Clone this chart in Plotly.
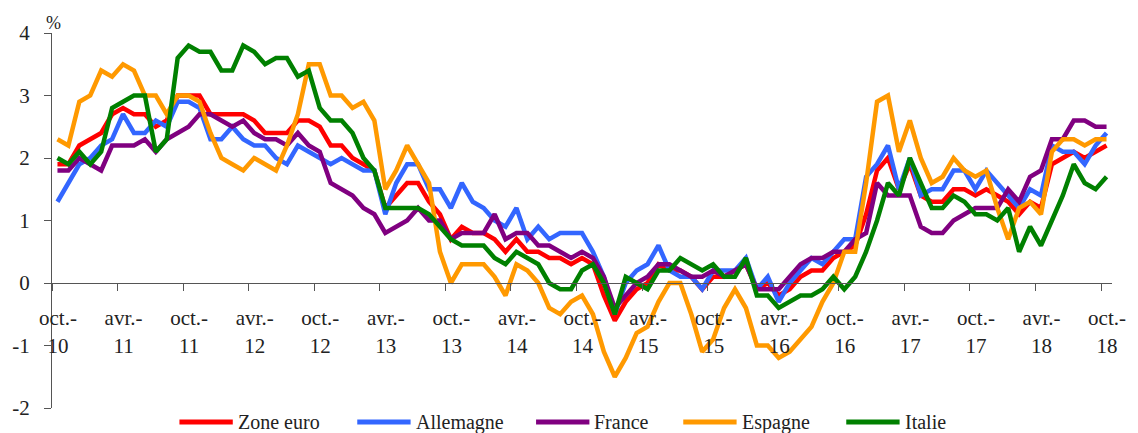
import plotly.graph_objects as go

# Monthly year-on-year inflation (%), October 2010 to October 2018
months = list(range(97))

zone_euro = [1.9, 1.9, 2.2, 2.3, 2.4, 2.7, 2.8, 2.7, 2.7, 2.5, 2.6, 3.0, 3.0, 3.0, 2.7, 2.7,
             2.7, 2.7, 2.6, 2.4, 2.4, 2.4, 2.6, 2.6, 2.5, 2.2, 2.2, 2.0, 1.9, 1.8, 1.2, 1.4,
             1.6, 1.6, 1.3, 1.1, 0.7, 0.9, 0.8, 0.8, 0.7, 0.5, 0.7, 0.5, 0.5, 0.4, 0.4, 0.3,
             0.4, 0.3, -0.2, -0.6, -0.3, -0.1, 0.0, 0.3, 0.2, 0.2, 0.1, -0.1, 0.1, 0.1, 0.2,
             0.3, -0.1, 0.0, -0.2, -0.1, 0.1, 0.2, 0.2, 0.4, 0.5, 0.6, 1.1, 1.8, 2.0, 1.5,
             1.9, 1.4, 1.3, 1.3, 1.5, 1.5, 1.4, 1.5, 1.4, 1.3, 1.1, 1.3, 1.2, 1.9, 2.0, 2.1,
             2.0, 2.1, 2.2]

allemagne = [1.3, 1.6, 1.9, 2.0, 2.2, 2.3, 2.7, 2.4, 2.4, 2.6, 2.5, 2.9, 2.9, 2.8, 2.3, 2.3,
             2.5, 2.3, 2.2, 2.2, 2.0, 1.9, 2.2, 2.1, 2.0, 1.9, 2.0, 1.9, 1.8, 1.8, 1.1, 1.6,
             1.9, 1.9, 1.5, 1.5, 1.2, 1.6, 1.3, 1.2, 1.0, 0.9, 1.2, 0.7, 0.9, 0.7, 0.8, 0.8,
             0.8, 0.5, 0.1, -0.5, 0.0, 0.2, 0.3, 0.6, 0.2, 0.1, 0.1, -0.1, 0.2, 0.2, 0.2,
             0.4, -0.1, 0.1, -0.3, 0.0, 0.2, 0.4, 0.3, 0.5, 0.7, 0.7, 1.7, 1.9, 2.2, 1.5,
             2.0, 1.4, 1.5, 1.5, 1.8, 1.8, 1.5, 1.8, 1.6, 1.4, 1.2, 1.5, 1.4, 2.2, 2.1, 2.1,
             1.9, 2.2, 2.4]

france = [1.8, 1.8, 2.0, 1.9, 1.8, 2.2, 2.2, 2.2, 2.3, 2.1, 2.3, 2.4, 2.5, 2.7, 2.7, 2.6,
          2.5, 2.6, 2.4, 2.3, 2.3, 2.2, 2.4, 2.2, 2.1, 1.6, 1.5, 1.4, 1.2, 1.1, 0.8, 0.9,
          1.0, 1.2, 1.0, 1.0, 0.7, 0.8, 0.8, 0.8, 1.1, 0.7, 0.8, 0.8, 0.6, 0.6, 0.5, 0.4,
          0.5, 0.4, 0.1, -0.4, -0.2, 0.0, 0.1, 0.3, 0.3, 0.2, 0.1, 0.1, 0.2, 0.1, 0.2,
          0.3, -0.1, -0.1, -0.1, 0.1, 0.3, 0.4, 0.4, 0.5, 0.5, 0.7, 0.8, 1.6, 1.4, 1.4,
          1.4, 0.9, 0.8, 0.8, 1.0, 1.1, 1.2, 1.2, 1.2, 1.5, 1.3, 1.7, 1.8, 2.3, 2.3, 2.6,
          2.6, 2.5, 2.5]

espagne = [2.3, 2.2, 2.9, 3.0, 3.4, 3.3, 3.5, 3.4, 3.0, 3.0, 2.7, 3.0, 3.0, 2.9, 2.4, 2.0,
           1.9, 1.8, 2.0, 1.9, 1.8, 2.2, 2.7, 3.5, 3.5, 3.0, 3.0, 2.8, 2.9, 2.6, 1.5, 1.8,
           2.2, 1.9, 1.6, 0.5, 0.0, 0.3, 0.3, 0.3, 0.1, -0.2, 0.3, 0.2, 0.0, -0.4, -0.5,
           -0.3, -0.2, -0.5, -1.1, -1.5, -1.2, -0.8, -0.7, -0.3, 0.0, 0.0, -0.5, -1.1, -0.9,
           -0.4, -0.1, -0.4, -1.0, -1.0, -1.2, -1.1, -0.9, -0.7, -0.3, 0.0, 0.5, 0.5, 1.6,
           2.9, 3.0, 2.1, 2.6, 2.0, 1.6, 1.7, 2.0, 1.8, 1.7, 1.8, 1.2, 0.7, 1.2, 1.3, 1.1,
           2.1, 2.3, 2.3, 2.2, 2.3, 2.3]

italie = [2.0, 1.9, 2.1, 1.9, 2.1, 2.8, 2.9, 3.0, 3.0, 2.1, 2.3, 3.6, 3.8, 3.7, 3.7, 3.4,
          3.4, 3.8, 3.7, 3.5, 3.6, 3.6, 3.3, 3.4, 2.8, 2.6, 2.6, 2.4, 2.0, 1.8, 1.2, 1.2,
          1.2, 1.2, 1.1, 0.9, 0.7, 0.6, 0.6, 0.6, 0.4, 0.3, 0.5, 0.4, 0.3, 0.0, -0.1, -0.1,
          0.2, 0.3, 0.0, -0.5, 0.1, 0.0, -0.1, 0.2, 0.2, 0.4, 0.3, 0.2, 0.3, 0.1, 0.1,
          0.4, -0.2, -0.2, -0.4, -0.3, -0.2, -0.2, -0.1, 0.1, -0.1, 0.1, 0.5, 1.0, 1.6,
          1.4, 2.0, 1.6, 1.2, 1.2, 1.4, 1.3, 1.1, 1.1, 1.0, 1.2, 0.5, 0.9, 0.6, 1.0, 1.4,
          1.9, 1.6, 1.5, 1.7]

series_names = ["Zone euro", "Allemagne", "France", "Espagne", "Italie"]
series_values = [zone_euro, allemagne, france, espagne, italie]
series_colors = ["#FF0000", "#3366FF", "#800080", "#FF9900", "#008000"]

# Half-yearly labels, one every six months starting at October 2010
tick_months = list(range(0, 97, 6))
tick_labels = ["oct.-<br>10", "avr.-<br>11", "oct.-<br>11", "avr.-<br>12", "oct.-<br>12",
               "avr.-<br>13", "oct.-<br>13", "avr.-<br>14", "oct.-<br>14", "avr.-<br>15",
               "oct.-<br>15", "avr.-<br>16", "oct.-<br>16", "avr.-<br>17", "oct.-<br>17",
               "avr.-<br>18", "oct.-<br>18"]

y_ticks = [-2, -1, 0, 1, 2, 3, 4]
y_labels = ["-2", "-1", "0", "1", "2", "3", "4"]

FONT = "Liberation Serif"
AXIS = "#555555"
TEXT = "#222222"

W, H = 1138, 433
ML, MR, MT, MB = 50, 15, 33, 25
plot_w = W - ML - MR
plot_h = H - MT - MB


def paper_x(px):
    return (px - ML) / plot_w


def paper_y(py):
    return (H - MB - py) / plot_h


fig = go.Figure()
for name, vals, col in zip(series_names, series_values, series_colors):
    fig.add_trace(go.Scatter(x=months, y=vals, mode="lines", name=name,
                             line=dict(color=col, width=4.5), showlegend=False))

# Category axis: tick marks sit between months, labels centred on the month
fig.update_xaxes(
    range=[-0.5, 96.5],
    tickvals=[m - 0.5 for m in tick_months],
    ticktext=tick_labels,
    ticklabelshift=6,
    ticklabelstandoff=9,
    ticks="outside", ticklen=7, tickwidth=1, tickcolor=AXIS,
    showline=True, linecolor=AXIS, linewidth=1,
    showgrid=False, zeroline=False,
    anchor="free", position=1 / 3,
    tickfont=dict(family=FONT, size=21, color=TEXT),
)
fig.update_yaxes(
    range=[-2, 4],
    tickvals=y_ticks, ticktext=y_labels,
    ticks="outside", ticklen=7, tickwidth=1, tickcolor=AXIS,
    ticklabelstandoff=10,
    showline=True, linecolor=AXIS, linewidth=1,
    showgrid=False, zeroline=False,
    tickfont=dict(family=FONT, size=21, color=TEXT),
)

annotations = [dict(text="%", xref="paper", yref="paper", x=paper_x(52), y=paper_y(23),
                    xanchor="center", yanchor="middle", showarrow=False,
                    font=dict(family=FONT, size=18, color=TEXT))]
shapes = []

# Legend row under the plot
legend_line_start = [179, 359, 540, 689, 854]
legend_line_len = 54
legend_y = 422
for name, col, x0 in zip(series_names, series_colors, legend_line_start):
    shapes.append(dict(type="line", xref="paper", yref="paper",
                       x0=paper_x(x0), x1=paper_x(x0 + legend_line_len),
                       y0=paper_y(legend_y), y1=paper_y(legend_y),
                       line=dict(color=col, width=5)))
    annotations.append(dict(text=name, xref="paper", yref="paper",
                            x=paper_x(x0 + legend_line_len + 3), y=paper_y(legend_y),
                            xanchor="left", yanchor="middle", showarrow=False,
                            font=dict(family=FONT, size=20, color=TEXT)))

fig.update_layout(
    width=W, height=H,
    margin=dict(l=ML, r=MR, t=MT, b=MB),
    paper_bgcolor="white", plot_bgcolor="white",
    showlegend=False,
    annotations=annotations, shapes=shapes,
)

fig.write_html("out.html")
